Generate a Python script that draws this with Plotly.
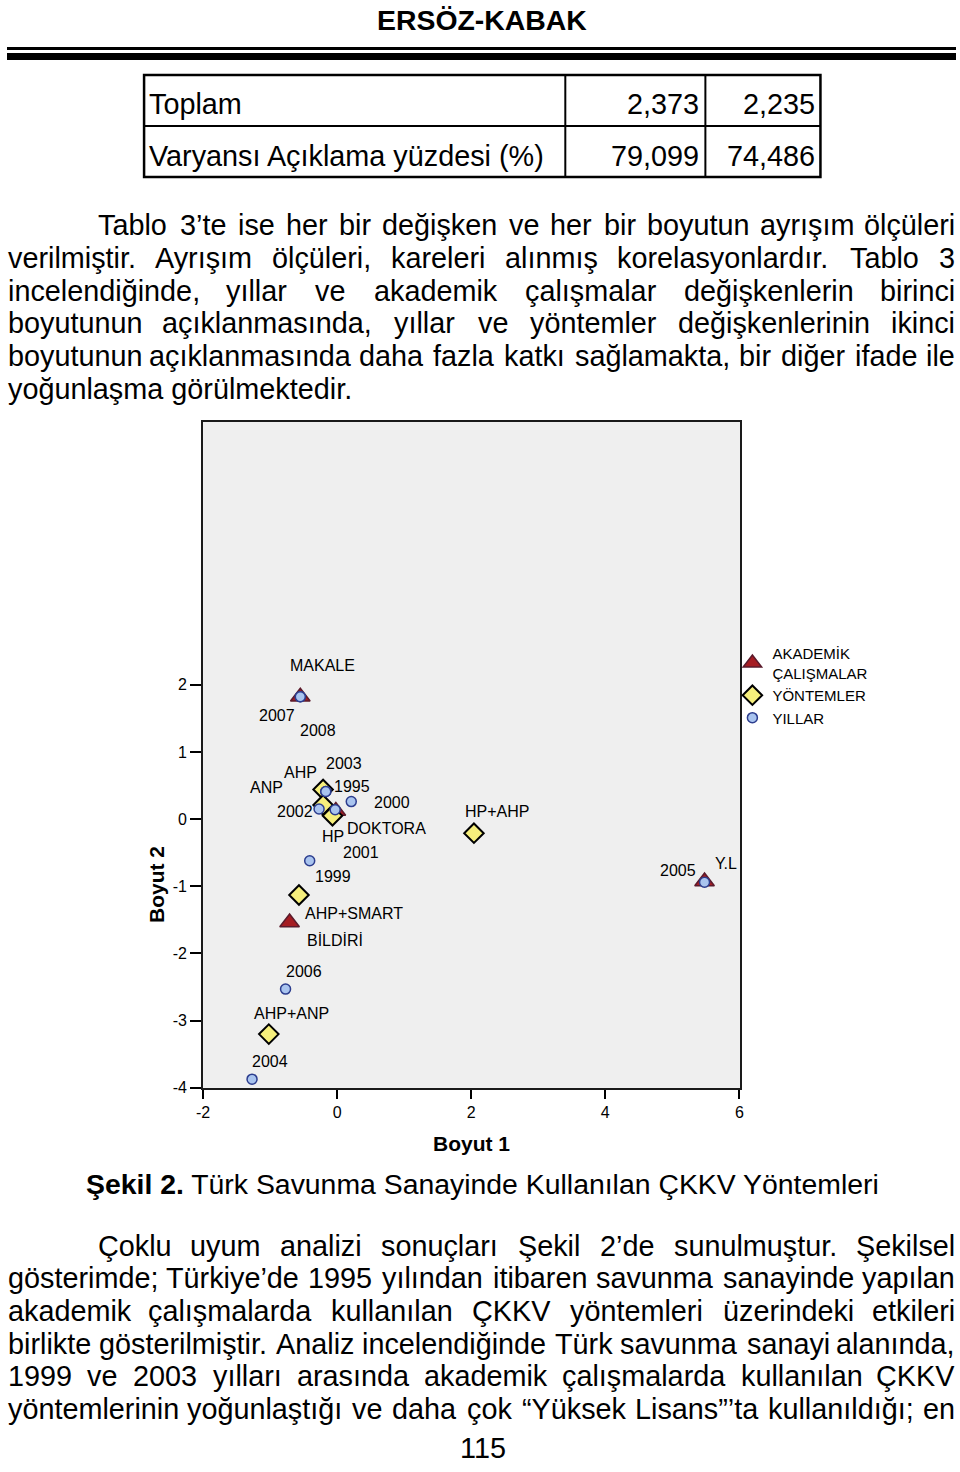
import plotly.graph_objects as go

# ---- values ----
akademik_labels = ["MAKALE", "DOKTORA", "BİLDİRİ", "Y.L"]
akademik_x = [-0.55, -0.02, -0.71, 5.48]
akademik_y = [1.82, 0.12, -1.54, -0.93]

yontem_labels = ["AHP", "ANP", "HP", "HP+AHP", "AHP+SMART", "AHP+ANP"]
yontem_x = [-0.21, -0.21, -0.07, 2.04, -0.57, -1.02]
yontem_y = [0.44, 0.21, 0.05, -0.21, -1.13, -3.20]

yil_labels = ["2007", "2008", "2003", "1995", "2000", "2002", "2001", "1999", "2006", "2004", "2005"]
yil_x = [-0.55, -0.55, -0.17, -0.17, 0.21, -0.27, -0.03, -0.41, -0.77, -1.27, 5.48]
yil_y = [1.82, 1.82, 0.41, 0.41, 0.26, 0.15, 0.14, -0.62, -2.53, -3.87, -0.94]

x_ticks = [-2, 0, 2, 4, 6]
x_ticktext = ["-2", "0", "2", "4", "6"]
y_ticks = [-4, -3, -2, -1, 0, 1, 2]
y_ticktext = ["-4", "-3", "-2", "-1", "0", "1", "2"]

table_rows = ["Toplam", "Varyansı Açıklama yüzdesi (%)"]
table_dim1 = ["2,373", "79,099"]
table_dim2 = ["2,235", "74,486"]

para1 = [
    "Tablo 3’te ise her bir değişken ve her bir boyutun ayrışım ölçüleri",
    "verilmiştir. Ayrışım ölçüleri, kareleri alınmış korelasyonlardır. Tablo 3",
    "incelendiğinde, yıllar ve akademik çalışmalar değişkenlerin birinci",
    "boyutunun açıklanmasında, yıllar ve yöntemler değişkenlerinin ikinci",
    "boyutunun açıklanmasında daha fazla katkı sağlamakta, bir diğer ifade ile",
    "yoğunlaşma görülmektedir.",
]
para2 = [
    "Çoklu uyum analizi sonuçları Şekil 2’de sunulmuştur. Şekilsel",
    "gösterimde; Türkiye’de 1995 yılından itibaren savunma sanayinde yapılan",
    "akademik çalışmalarda kullanılan ÇKKV yöntemleri üzerindeki etkileri",
    "birlikte gösterilmiştir. Analiz incelendiğinde Türk savunma sanayi alanında,",
    "1999 ve 2003 yılları arasında akademik çalışmalarda kullanılan ÇKKV",
    "yöntemlerinin yoğunlaştığı ve daha çok “Yüksek Lisans”’ta kullanıldığı; en",
]

# label offsets in pixels (dx right, dy down) from each marker
akademik_off = [(22, -31), (51, 17), (45, 17), (21, -18)]
yontem_off = [(-23, -17), (-57, -17), (1, 21), (23, -22), (55, 18), (23, -21)]
yil_off = [(-23, 19), (18, 34), (18, -28), (26, -5), (41, 1), (-24, 2),
           (26, 43), (23, 16), (18, -18), (18, -18), (-27, -12)]

W, H = 960, 1472
BODY = "Liberation Sans, Arial, sans-serif"
CHART = "Liberation Sans, Arial, sans-serif"
BODY_SIZE = 28.8

# Arial / Liberation Sans advance widths (1/1000 em)
_ARIAL = {" ": 278, "%": 889, "(": 333, ")": 333, ",": 278, "-": 333, ".": 278,
          ":": 278, ";": 278, "’": 222, "“": 333, "”": 333, "'": 191}
for chars, w in [("ijl", 222), ("ftıİI", 278), ("r", 333), ("cksvxyzçşJ", 500),
                 ("abdeghnopquğöü0123456789", 556), ("L", 556), ("FTZ", 611),
                 ("ABEKPSVXYŞ", 667), ("CDHNRUwÇÜ", 722), ("GOQÖĞ", 778),
                 ("mM", 833), ("W", 944)]:
    for ch in chars:
        _ARIAL[ch] = w


def text_width(s, size):
    return sum(_ARIAL.get(ch, 556) for ch in s) / 1000 * size


# the photographed page comes out slightly shrunk and shifted; map the
# reference pixel positions back onto the figure canvas
def cx(x):
    return min(max((x - 7) / 0.988, 0), W)


def px(x):
    return cx(x) / W


def py(y):
    return 1 - (y / 0.994) / H


annotations = []


def txt(x, y, s, size=BODY_SIZE, xanchor="left", family=BODY, angle=0, raw=False):
    annotations.append(dict(
        x=(x / W if raw else px(x)), y=py(y), xref="paper", yref="paper", text=s,
        showarrow=False, xanchor=xanchor, yanchor="middle", textangle=angle, borderpad=0,
        font=dict(family=family, size=size, color="black"),
    ))


def justify(line, y, left, right=958, last=False):
    words = line.split(" ")
    lo, hi = cx(left), cx(right)
    if last or len(words) < 2:
        txt(lo, y, line, raw=True)
        return
    widths = [text_width(w, BODY_SIZE) for w in words]
    gap = (hi - lo - sum(widths)) / (len(words) - 1)
    x = lo
    for i, (word, wd) in enumerate(zip(words, widths)):
        if i == 0:
            txt(x, y, word, raw=True)
        elif i == len(words) - 1:
            txt(hi, y, word, xanchor="right", raw=True)
        else:
            txt(x + wd / 2, y, word, xanchor="center", raw=True)
        x += wd + gap


# header and table
txt(482, 20, "<b>ERSÖZ-KABAK</b>", size=28.4, xanchor="center")
for i, (name, a, b) in enumerate(zip(table_rows, table_dim1, table_dim2)):
    row_y = 104 + i * 52
    txt(148, row_y, name)
    txt(700, row_y, a, xanchor="right")
    txt(816, row_y, b, xanchor="right")

for i, line in enumerate(para1):
    justify(line, 225 + i * 32.8, 97 if i == 0 else 5, last=(i == len(para1) - 1))

txt(482, 1184, "<b>Şekil 2.</b> Türk Savunma Sanayinde Kullanılan ÇKKV Yöntemleri",
    size=28.4, xanchor="center")

for i, line in enumerate(para2):
    justify(line, 1246 + i * 32.6, 97 if i == 0 else 5)

txt(483, 1448, "115", xanchor="center")

# axis titles
txt(471, 1144, "<b>Boyut 1</b>", size=21, xanchor="center", family=CHART)
txt(157, 885, "<b>Boyut 2</b>", size=21, xanchor="center", family=CHART, angle=-90)

# point labels
for labels, xs, ys, offs in [(akademik_labels, akademik_x, akademik_y, akademik_off),
                             (yontem_labels, yontem_x, yontem_y, yontem_off),
                             (yil_labels, yil_x, yil_y, yil_off)]:
    for lab, x, y, (dx, dy) in zip(labels, xs, ys, offs):
        annotations.append(dict(
            x=x, y=y, xref="x", yref="y", text=lab, showarrow=False,
            xshift=dx, yshift=-dy, xanchor="center", yanchor="middle",
            font=dict(family=CHART, size=16, color="black"),
        ))


def rect(x0, x1, y0, y1, **kw):
    return dict(type="rect", xref="paper", yref="paper", x0=px(x0), x1=px(x1),
                y0=py(y0), y1=py(y1), **kw)


def seg(x0, x1, y0, y1, width=2):
    return dict(type="line", xref="paper", yref="paper", x0=px(x0), x1=px(x1),
                y0=py(y0), y1=py(y1), line=dict(color="black", width=width))


shapes = [
    rect(3, 958, 47, 50, fillcolor="black", line=dict(width=0)),
    rect(3, 958, 53, 60, fillcolor="black", line=dict(width=0)),
    rect(144, 820, 75, 177, line=dict(color="black", width=2.5)),
    seg(144, 820, 126, 126),
    seg(565, 565, 75, 177),
    seg(705, 705, 75, 177),
]

fig = go.Figure()
fig.add_trace(go.Scatter(
    x=akademik_x, y=akademik_y, mode="markers", name="AKADEMİK<br>ÇALIŞMALAR",
    text=akademik_labels, hoverinfo="text",
    marker=dict(symbol="triangle-up", size=17, color="#a51c22", line=dict(color="#5b1b2c", width=1.5)),
))
fig.add_trace(go.Scatter(
    x=yontem_x, y=yontem_y, mode="markers", name="YÖNTEMLER",
    text=yontem_labels, hoverinfo="text",
    marker=dict(symbol="diamond", size=15, color="#f6ef7c", line=dict(color="black", width=2)),
))
fig.add_trace(go.Scatter(
    x=yil_x, y=yil_y, mode="markers", name="YILLAR",
    text=yil_labels, hoverinfo="text",
    marker=dict(symbol="circle", size=10, color="#a9c4ef", line=dict(color="#2c3d8e", width=1.5)),
))

fig.update_layout(
    width=W,
    height=H,
    margin=dict(l=0, r=0, t=0, b=0),
    paper_bgcolor="white",
    plot_bgcolor="#efefef",
    annotations=annotations,
    shapes=shapes,
    showlegend=True,
    legend=dict(
        x=px(732), y=py(637), xanchor="left", yanchor="top",
        font=dict(family=CHART, size=15, color="black"),
        bgcolor="rgba(0,0,0,0)", tracegroupgap=0,
    ),
    xaxis=dict(
        domain=[px(203), px(740)], range=[-2, 6.015],
        tickvals=x_ticks, ticktext=x_ticktext, ticks="outside", ticklen=9, tickwidth=1.5,
        tickcolor="black", showline=True, linecolor="#1a1a1a", linewidth=2, mirror=True,
        showgrid=False, zeroline=False, tickfont=dict(family=CHART, size=16, color="black"),
    ),
    yaxis=dict(
        domain=[py(1088), py(422)], range=[-4, 5.91],
        tickvals=y_ticks, ticktext=y_ticktext, ticks="outside", ticklen=11, tickwidth=1.5,
        tickcolor="black", showline=True, linecolor="#1a1a1a", linewidth=2, mirror=True,
        showgrid=False, zeroline=False, tickfont=dict(family=CHART, size=16, color="black"),
    ),
)

fig.write_html(
    "out.html",
    config={"displayModeBar": False},
    post_script="document.body.style.margin = '0px'; document.documentElement.style.overflow = 'hidden';",
)
